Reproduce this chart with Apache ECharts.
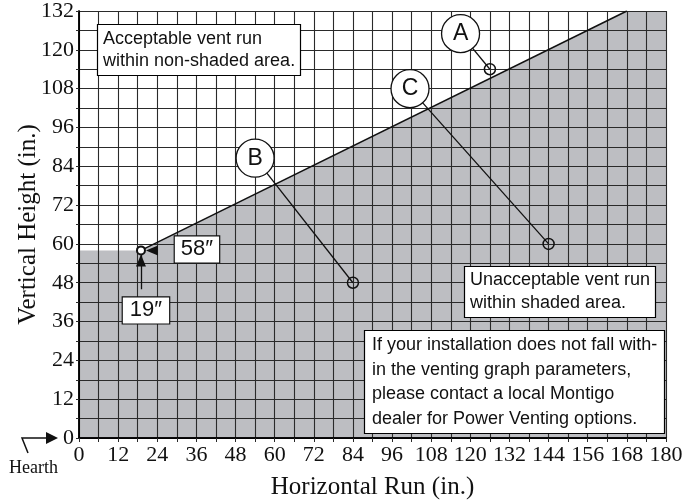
<!DOCTYPE html>
<html lang="en" style="height: 100%">
<head>
    <meta charset="utf-8">
</head>
<body style="height: 100%; margin: 0; background: #fff">
    <div id="container" style="width: 695px; height: 504px"></div>
    <script type="text/javascript" src="https://fastly.jsdelivr.net/npm/echarts@6.0.0/dist/echarts.min.js"></script>
    <script type="text/javascript">
    // shaded (unacceptable) boundary
    const shadeX = [0, 19, 168, 180];
    const shadeY = [58, 58, 132, 132];
    // sloped limit line
    const limitX = [19, 168];
    const limitY = [58, 132];
    // example vent runs
    const runNames = ['A', 'B', 'C'];
    const runX = [126, 84, 144];
    const runY = [114, 48, 60];
    // where the letter bubbles sit (data units)
    const calloutX = [117, 54, 101.5];
    const calloutY = [125, 86.5, 108];
    // minimum point
    const minPoint = [19, 58];

    const serif = '"Liberation Serif", "Times New Roman", serif';
    const sans = '"Liberation Sans", Arial, sans-serif';
    const shade = '#bdbec2';
    const gridCol = '#2a2a2a';

    var dom = document.getElementById('container');
    var myChart = echarts.init(dom, null, { renderer: 'canvas' });

    const boxStyle = {
        fontFamily: sans,
        fontSize: 18,
        fontWeight: 'normal',
        color: '#111'
    };

    var option = {
        animation: false,
        backgroundColor: '#fff',
        title: [
            {
                text: 'Acceptable vent run\nwithin non-shaded area.',
                left: 97, top: 24,
                padding: [4, 6, 4, 6],
                backgroundColor: '#fff', borderColor: '#000', borderWidth: 1.2,
                textStyle: Object.assign({ lineHeight: 22 }, boxStyle),
                z: 20
            },
            {
                text: 'Unacceptable vent run\nwithin shaded area.',
                left: 464, top: 266,
                padding: [3, 6, 3, 6],
                backgroundColor: '#fff', borderColor: '#000', borderWidth: 1.2,
                textStyle: Object.assign({ lineHeight: 23 }, boxStyle),
                z: 20
            },
            {
                text: 'If your installation does not fall with-\nin the venting graph parameters,\nplease contact a local Montigo\ndealer for Power Venting options.',
                left: 364, top: 330,
                padding: [3, 8, 3, 8],
                backgroundColor: '#fff', borderColor: '#000', borderWidth: 1.2,
                textStyle: Object.assign({ lineHeight: 24.5 }, boxStyle),
                z: 20
            }
        ],
        grid: {
            left: 79, top: 11, width: 587, height: 427,
            outerBoundsMode: 'none',
            show: false
        },
        xAxis: [
            {
                type: 'value', min: 0, max: 180, interval: 6, z: 3,
                name: 'Horizontal Run (in.)',
                nameLocation: 'middle', nameGap: 37, nameMoveOverlap: false,
                nameTextStyle: { fontFamily: serif, fontSize: 25, color: '#111' },
                axisLine: { show: true, lineStyle: { color: '#000', width: 1.5 } },
                axisTick: { show: true, length: 4, lineStyle: { color: gridCol } },
                axisLabel: {
                    fontFamily: serif, fontSize: 22, color: '#111', margin: 6,
                    formatter: v => (v % 12 === 0 ? String(v) : '')
                },
                splitLine: { show: true, lineStyle: { color: gridCol, width: 1.1 } }
            },
            {
                type: 'value', min: 0, max: 180, position: 'top', z: 3,
                axisLine: { show: true, lineStyle: { color: '#000', width: 1.5 } },
                axisTick: { show: false }, axisLabel: { show: false }, splitLine: { show: false }
            }
        ],
        yAxis: [
            {
                type: 'value', min: 0, max: 132, interval: 6, z: 3,
                name: 'Vertical Height (in.)',
                nameLocation: 'middle', nameGap: 38, nameMoveOverlap: false,
                nameTextStyle: { fontFamily: serif, fontSize: 25, color: '#111' },
                axisLine: { show: true, lineStyle: { color: '#000', width: 1.5 } },
                axisTick: { show: true, length: 3, lineStyle: { color: gridCol } },
                axisLabel: {
                    fontFamily: serif, fontSize: 22, color: '#111', margin: 5,
                    formatter: v => (v % 12 === 0 ? String(v) : '')
                },
                splitLine: { show: true, lineStyle: { color: gridCol, width: 1.1 } }
            },
            {
                type: 'value', min: 0, max: 132, position: 'right', z: 3,
                axisLine: { show: true, lineStyle: { color: '#000', width: 1.5 } },
                axisTick: { show: false }, axisLabel: { show: false }, splitLine: { show: false }
            }
        ],
        series: [
            {
                name: 'shade', type: 'line', z: 1,
                data: shadeX.map((x, i) => [x, shadeY[i]]),
                symbol: 'none',
                lineStyle: { width: 0 },
                areaStyle: { color: shade, opacity: 1 }
            },
            {
                name: 'limit', type: 'line', z: 4,
                data: limitX.map((x, i) => [x, limitY[i]]),
                symbol: 'none',
                lineStyle: { color: '#111', width: 1.5 }
            },
            {
                name: 'leaders', type: 'lines', coordinateSystem: 'cartesian2d', z: 5,
                lineStyle: { color: '#111', width: 1.3, opacity: 1 },
                data: runX.map((x, i) => ({ coords: [[calloutX[i], calloutY[i]], [x, runY[i]]] }))
                    .concat([{ coords: [minPoint, [minPoint[0], minPoint[1] - 12]] }])
            },
            {
                name: 'runs', type: 'scatter', z: 6,
                symbol: 'circle', symbolSize: 11,
                itemStyle: { color: 'rgba(0,0,0,0)', borderColor: '#111', borderWidth: 1.5, opacity: 1 },
                data: runX.map((x, i) => [x, runY[i]])
            },
            {
                name: 'callouts', type: 'scatter', z: 7,
                symbol: 'circle', symbolSize: 38,
                itemStyle: { color: '#fff', borderColor: '#111', borderWidth: 1.3, opacity: 1 },
                label: {
                    show: true, position: 'inside',
                    fontFamily: sans, fontSize: 23, color: '#111',
                    formatter: p => runNames[p.dataIndex]
                },
                data: calloutX.map((x, i) => [x, calloutY[i]])
            },
            {
                name: 'minArrowUp', type: 'scatter', z: 8,
                symbol: 'triangle', symbolSize: [10, 12], symbolOffset: [0, 10],
                itemStyle: { color: '#111', opacity: 1 },
                data: [minPoint]
            },
            {
                name: 'minArrowLeft', type: 'scatter', z: 8,
                symbol: 'triangle', symbolSize: [10, 12], symbolRotate: 90, symbolOffset: [11, 0],
                itemStyle: { color: '#111', opacity: 1 },
                label: {
                    show: true, position: 'inside', offset: [45, -1],
                    formatter: () => minPoint[1] + '″',
                    fontFamily: sans, fontSize: 22, color: '#111',
                    backgroundColor: '#fff', borderColor: '#111', borderWidth: 1.2,
                    padding: [3, 6, 1, 6]
                },
                data: [minPoint]
            },
            {
                name: 'minPoint', type: 'scatter', z: 9,
                symbol: 'circle', symbolSize: 8,
                itemStyle: { color: '#fff', borderColor: '#111', borderWidth: 2, opacity: 1 },
                label: {
                    show: true, position: 'inside', offset: [5, 60],
                    formatter: () => minPoint[0] + '″',
                    fontFamily: sans, fontSize: 22, color: '#111',
                    backgroundColor: '#fff', borderColor: '#111', borderWidth: 1.2,
                    padding: [3, 7, 1, 7]
                },
                data: [minPoint]
            }
        ],
        graphic: [
            {
                type: 'text', left: 9, top: 459, z: 20,
                style: { text: 'Hearth', font: '18px ' + serif, fill: '#111' }
            },
            {
                type: 'polyline', z: 20,
                shape: { points: [[28, 453], [22, 438], [48, 438]] },
                style: { stroke: '#111', lineWidth: 1.5, fill: null }
            },
            {
                type: 'polygon', z: 20,
                shape: { points: [[46, 432], [58, 438], [46, 444]] },
                style: { fill: '#111' }
            }
        ]
    };

    myChart.setOption(option);
    window.addEventListener('resize', myChart.resize);
    </script>
</body>
</html>
